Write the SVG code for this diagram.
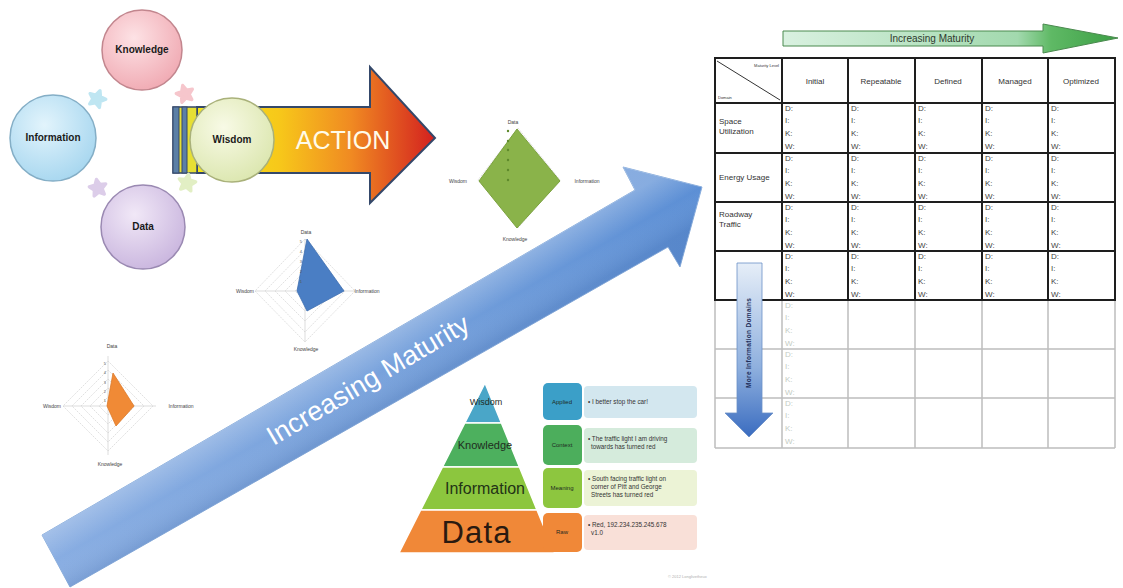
<svg xmlns="http://www.w3.org/2000/svg" width="1123" height="588" viewBox="0 0 1123 588">
<defs>
<style>
text{font-family:"Liberation Sans","Open Sans",Arial,sans-serif}
.cl{font-size:10px;font-weight:bold;text-anchor:middle;fill:#1a1a1a}
.rl{font-size:5px;fill:#444;text-anchor:middle}
.tk{font-size:4px;fill:#555;text-anchor:end}
.grid{fill:none;stroke:#d4d4d4;stroke-width:0.7;stroke-dasharray:2 1}
.ax{stroke:#cfcfcf;stroke-width:0.7}
.th{font-size:8px;text-anchor:middle;fill:#333}
.rh{font-size:8px;fill:#333}
.c text{font-size:8px;fill:#444}
.cg text{font-size:8px;fill:#c4ccc4}
.tl{stroke:#1e1e1e;stroke-width:2;fill:none}
.gl{stroke:#bdbdbd;stroke-width:1.5;fill:none}
.bl{font-size:6px;text-anchor:middle;fill:#1e2a22}
.ds{font-size:6.3px;fill:#333}
</style>
<radialGradient id="gK" cx="0.4" cy="0.35" r="0.7"><stop offset="0" stop-color="#fde2e5"/><stop offset="1" stop-color="#f0a9b2"/></radialGradient>
<radialGradient id="gI" cx="0.4" cy="0.35" r="0.7"><stop offset="0" stop-color="#e2f4fc"/><stop offset="1" stop-color="#a6d6ef"/></radialGradient>
<radialGradient id="gD" cx="0.4" cy="0.35" r="0.7"><stop offset="0" stop-color="#f1e8f7"/><stop offset="1" stop-color="#c9b5de"/></radialGradient>
<radialGradient id="gW" cx="0.4" cy="0.35" r="0.7"><stop offset="0" stop-color="#f8fae6"/><stop offset="1" stop-color="#dbe6ae"/></radialGradient>
<linearGradient id="gAct" x1="195" y1="0" x2="435" y2="0" gradientUnits="userSpaceOnUse"><stop offset="0" stop-color="#f3e81c"/><stop offset="0.35" stop-color="#f7c81a"/><stop offset="0.65" stop-color="#f08a22"/><stop offset="1" stop-color="#d3201f"/></linearGradient>
<linearGradient id="gBig" x1="56" y1="561" x2="700" y2="190" gradientUnits="userSpaceOnUse"><stop offset="0" stop-color="#88ade2"/><stop offset="0.5" stop-color="#78a2dc"/><stop offset="1" stop-color="#5c8fd5"/></linearGradient>
<linearGradient id="gBigS" x1="335" y1="364" x2="365" y2="416" gradientUnits="userSpaceOnUse"><stop offset="0" stop-color="#ffffff" stop-opacity="0.25"/><stop offset="0.5" stop-color="#ffffff" stop-opacity="0"/><stop offset="1" stop-color="#20407a" stop-opacity="0.12"/></linearGradient>
<linearGradient id="gGr" x1="783" y1="0" x2="1118" y2="0" gradientUnits="userSpaceOnUse"><stop offset="0" stop-color="#d9f1e0"/><stop offset="0.7" stop-color="#a2d9ae"/><stop offset="0.8" stop-color="#5fb965"/><stop offset="1" stop-color="#3c9f45"/></linearGradient>
<linearGradient id="gDn" x1="0" y1="263" x2="0" y2="437" gradientUnits="userSpaceOnUse"><stop offset="0" stop-color="#e6eef8"/><stop offset="0.6" stop-color="#8fb0de"/><stop offset="1" stop-color="#3a6cc0"/></linearGradient>
<path id="star" d="M0,-8 L2.3,-3 L7.6,-2.5 L3.6,1.2 L4.7,6.5 L0,3.8 L-4.7,6.5 L-3.6,1.2 L-7.6,-2.5 L-2.3,-3 Z"/>
</defs>
<rect width="1123" height="588" fill="#fff"/>

<g id="big-arrow">
<polygon points="42,535 635,190 623,167 702,187 680,267 668,247 70,587" fill="url(#gBig)" stroke="#8aaedd" stroke-width="1"/>
<polygon points="42,535 635,190 623,167 702,187 680,267 668,247 70,587" fill="url(#gBigS)"/>
<text x="368" y="389" transform="rotate(-30.5 368 380)" text-anchor="middle" font-size="27" fill="#ffffff" textLength="230">Increasing Maturity</text>
</g>

<g id="action-arrow">
<polygon points="197,107 370,107 370,67 435,138 370,203 370,173 197,173" fill="url(#gAct)" stroke="#34486a" stroke-width="2"/>
<rect x="173" y="107" width="24" height="66" fill="#e6df34" stroke="#34486a" stroke-width="1.5"/>
<rect x="173" y="107" width="6" height="66" fill="#5b7fa6" stroke="#34486a" stroke-width="1"/>
<rect x="182" y="107" width="5" height="66" fill="#5b7fa6" stroke="#34486a" stroke-width="1"/>
<text x="343" y="149" text-anchor="middle" font-size="25" fill="#fffbe8">ACTION</text>
</g>

<g id="connectors">
<use href="#star" transform="translate(97,99) rotate(20) scale(1.1)" fill="#bfe6f2" stroke="#bfe6f2" stroke-width="3" stroke-linejoin="round"/>
<use href="#star" transform="translate(185,94) rotate(-15) scale(1.1)" fill="#f6c6cc" stroke="#f6c6cc" stroke-width="3" stroke-linejoin="round"/>
<use href="#star" transform="translate(187,183) rotate(10) scale(1.1)" fill="#e2efc4" stroke="#e2efc4" stroke-width="3" stroke-linejoin="round"/>
<use href="#star" transform="translate(98,188) rotate(-10) scale(1.1)" fill="#dccde9" stroke="#dccde9" stroke-width="3" stroke-linejoin="round"/>
</g>

<g id="knowledge-circle">
<circle cx="142" cy="50" r="40" fill="url(#gK)" stroke="#c2868e" stroke-width="1.5"/>
<text class="cl" x="142" y="53">Knowledge</text>
</g>
<g id="information-circle">
<circle cx="53" cy="138" r="43" fill="url(#gI)" stroke="#84aec6" stroke-width="1.5"/>
<text class="cl" x="53" y="141">Information</text>
</g>
<g id="data-circle">
<circle cx="143" cy="227" r="42" fill="url(#gD)" stroke="#9a89b2" stroke-width="1.5"/>
<text class="cl" x="143" y="230">Data</text>
</g>
<g id="wisdom-circle">
<circle cx="232" cy="140" r="42" fill="url(#gW)" stroke="#a9b17a" stroke-width="1.5"/>
<text class="cl" x="232" y="143">Wisdom</text>
</g>

<g id="radar-green">
<polygon class="grid" points="518,128 560,180 518,228 478,180"/>
<polygon points="517,129 560,181 517,228 479,181" fill="#8ab34a" stroke="#7ba23e" stroke-width="1"/>
<g fill="#5f8a2c"><circle cx="508" cy="131" r="1.2"/><circle cx="508" cy="141" r="1.2"/><circle cx="508" cy="150" r="1.2"/><circle cx="508" cy="160" r="1.2"/><circle cx="508" cy="170" r="1.2"/><circle cx="508" cy="180" r="1.2"/></g>
<text class="rl" x="513" y="124">Data</text>
<text class="rl" x="458" y="183">Wisdom</text>
<text class="rl" x="587" y="183">Information</text>
<text class="rl" x="515" y="241">Knowledge</text>
</g>

<g id="radar-blue">
<polygon class="grid" points="305,281 315,291 305,301 295,291"/>
<polygon class="grid" points="305,271 325,291 305,311 285,291"/>
<polygon class="grid" points="305,261 335,291 305,321 275,291"/>
<polygon class="grid" points="305,250 345,291 305,332 265,291"/>
<polygon class="grid" points="305,239 355,291 305,342 255,291"/>
<line class="ax" x1="305" y1="239" x2="305" y2="342"/><line class="ax" x1="255" y1="291" x2="355" y2="291"/>
<polygon points="307,239 344,291 307,311 297,291" fill="#4a7ec4" stroke="#3f6fb0" stroke-width="0.8"/>
<text class="tk" x="302" y="243">5</text><text class="tk" x="302" y="253">4</text><text class="tk" x="302" y="263">3</text><text class="tk" x="302" y="273">2</text><text class="tk" x="302" y="283">1</text>
<text class="rl" x="306" y="234">Data</text>
<text class="rl" x="245" y="293">Wisdom</text>
<text class="rl" x="367" y="293">Information</text>
<text class="rl" x="306" y="351">Knowledge</text>
</g>

<g id="radar-orange">
<polygon class="grid" points="108,397 117,406 108,415 99,406"/>
<polygon class="grid" points="108,388 126,406 108,424 90,406"/>
<polygon class="grid" points="108,379 135,406 108,433 81,406"/>
<polygon class="grid" points="108,370 144,406 108,442 72,406"/>
<polygon class="grid" points="108,361 153,406 108,451 63,406"/>
<line class="ax" x1="108" y1="356" x2="108" y2="455"/><line class="ax" x1="63" y1="406" x2="156" y2="406"/>
<polygon points="113,373 134,406 116,426 107,406" fill="#f08a36" stroke="#dd7a2a" stroke-width="0.8"/>
<text class="tk" x="106" y="365">5</text><text class="tk" x="106" y="374">4</text><text class="tk" x="106" y="384">3</text><text class="tk" x="106" y="393">2</text><text class="tk" x="106" y="402">1</text>
<text class="rl" x="112" y="348">Data</text>
<text class="rl" x="52" y="408">Wisdom</text>
<text class="rl" x="181" y="408">Information</text>
<text class="rl" x="110" y="466">Knowledge</text>
</g>

<g id="pyramid">
<polygon points="485,383 501.4,423 464.8,423" fill="#4aa6c8" stroke="#fff" stroke-width="1.5"/>
<polygon points="464.8,423 501.4,423 519.4,467 442.5,467" fill="#4db05e" stroke="#fff" stroke-width="1.5"/>
<polygon points="442.5,467 519.4,467 537,510 420.7,510" fill="#8cc63e" stroke="#fff" stroke-width="1.5"/>
<polygon points="420.7,510 537,510 554.7,553 399,553" fill="#f08838" stroke="#fff" stroke-width="1.5"/>
<text x="486" y="405" text-anchor="middle" font-size="9" fill="#1f2d26">Wisdom</text>
<text x="485" y="449" text-anchor="middle" font-size="11" fill="#1f2d1f">Knowledge</text>
<text x="485" y="494" text-anchor="middle" font-size="16" fill="#233316">Information</text>
<text x="476" y="543" text-anchor="middle" font-size="31" fill="#2a1a10" textLength="69">Data</text>
</g>

<g id="level-applied">
<rect x="584" y="386" width="113" height="32" rx="4" fill="#d3e7ef"/>
<rect x="543" y="383" width="39" height="37" rx="5" fill="#3b9fc8"/>
<text class="bl" x="562" y="404">Applied</text>
<text class="ds" x="588" y="404">• I better stop the car!</text>
</g>
<g id="level-context">
<rect x="584" y="428" width="113" height="35" rx="4" fill="#d5ebdc"/>
<rect x="543" y="425" width="39" height="40" rx="5" fill="#4cae5c"/>
<text class="bl" x="562" y="447">Context</text>
<text class="ds" x="588" y="441">• The traffic light I am driving</text>
<text class="ds" x="591" y="449">towards has turned red</text>
</g>
<g id="level-meaning">
<rect x="584" y="470" width="113" height="36" rx="4" fill="#ecf3d6"/>
<rect x="543" y="468" width="39" height="40" rx="5" fill="#8dc63f"/>
<text class="bl" x="562" y="490">Meaning</text>
<text class="ds" x="588" y="481">• South facing traffic light on</text>
<text class="ds" x="591" y="489">corner of Pitt and George</text>
<text class="ds" x="591" y="497">Streets has turned red</text>
</g>
<g id="level-raw">
<rect x="584" y="515" width="113" height="35" rx="4" fill="#f9e0d8"/>
<rect x="543" y="513" width="39" height="39" rx="5" fill="#f08838"/>
<text class="bl" x="562" y="534">Raw</text>
<text class="ds" x="588" y="527">• Red, 192.234.235.245.678</text>
<text class="ds" x="591" y="535">v1.0</text>
</g>
<text x="668" y="578" font-size="4" fill="#b0b0b0">© 2012 Longlivetheux</text>

<g id="maturity-arrow">
<polygon points="783,31 1043,31 1043,24 1118,38 1043,53 1043,46 783,46" fill="url(#gGr)" stroke="#4b8a4f" stroke-width="1"/>
<text x="932" y="42" text-anchor="middle" font-size="10" fill="#2e3a2e">Increasing Maturity</text>
</g>

<g id="table">
<line class="gl" x1="715" y1="300" x2="715" y2="448"/>
<line class="gl" x1="782" y1="300" x2="782" y2="448"/>
<line class="gl" x1="848" y1="300" x2="848" y2="448"/>
<line class="gl" x1="915" y1="300" x2="915" y2="448"/>
<line class="gl" x1="982" y1="300" x2="982" y2="448"/>
<line class="gl" x1="1048" y1="300" x2="1048" y2="448"/>
<line class="gl" x1="1115" y1="300" x2="1115" y2="448"/>
<line class="gl" x1="715" y1="349" x2="1115" y2="349"/>
<line class="gl" x1="715" y1="398" x2="1115" y2="398"/>
<line class="gl" x1="715" y1="448" x2="1115" y2="448"/>
<rect class="tl" x="715" y="58" width="400" height="242"/>
<line class="tl" x1="782" y1="58" x2="782" y2="300"/>
<line class="tl" x1="848" y1="58" x2="848" y2="300"/>
<line class="tl" x1="915" y1="58" x2="915" y2="300"/>
<line class="tl" x1="982" y1="58" x2="982" y2="300"/>
<line class="tl" x1="1048" y1="58" x2="1048" y2="300"/>
<line class="tl" x1="715" y1="103" x2="1115" y2="103"/>
<line class="tl" x1="715" y1="153" x2="1115" y2="153"/>
<line class="tl" x1="715" y1="202" x2="1115" y2="202"/>
<line class="tl" x1="715" y1="251" x2="1115" y2="251"/>
<line x1="717" y1="61" x2="780" y2="100" stroke="#333" stroke-width="1"/>
<text x="779" y="67" font-size="4" text-anchor="end" fill="#333">Maturity Level</text>
<text x="718" y="99" font-size="4" fill="#333">Domain</text>
<text class="th" x="815" y="84">Initial</text>
<text class="th" x="881" y="84">Repeatable</text>
<text class="th" x="948" y="84">Defined</text>
<text class="th" x="1015" y="84">Managed</text>
<text class="th" x="1081" y="84">Optimized</text>
<text class="rh" x="719" y="124">Space</text>
<text class="rh" x="719" y="134">Utilization</text>
<text class="rh" x="719" y="180">Energy Usage</text>
<text class="rh" x="719" y="217">Roadway</text>
<text class="rh" x="719" y="227">Traffic</text>
<g class="c">
<text x="785" y="111">D:</text><text x="785" y="123">I:</text><text x="785" y="136">K:</text><text x="785" y="149">W:</text>
<text x="851" y="111">D:</text><text x="851" y="123">I:</text><text x="851" y="136">K:</text><text x="851" y="149">W:</text>
<text x="918" y="111">D:</text><text x="918" y="123">I:</text><text x="918" y="136">K:</text><text x="918" y="149">W:</text>
<text x="985" y="111">D:</text><text x="985" y="123">I:</text><text x="985" y="136">K:</text><text x="985" y="149">W:</text>
<text x="1051" y="111">D:</text><text x="1051" y="123">I:</text><text x="1051" y="136">K:</text><text x="1051" y="149">W:</text>
<text x="785" y="161">D:</text><text x="785" y="173">I:</text><text x="785" y="186">K:</text><text x="785" y="199">W:</text>
<text x="851" y="161">D:</text><text x="851" y="173">I:</text><text x="851" y="186">K:</text><text x="851" y="199">W:</text>
<text x="918" y="161">D:</text><text x="918" y="173">I:</text><text x="918" y="186">K:</text><text x="918" y="199">W:</text>
<text x="985" y="161">D:</text><text x="985" y="173">I:</text><text x="985" y="186">K:</text><text x="985" y="199">W:</text>
<text x="1051" y="161">D:</text><text x="1051" y="173">I:</text><text x="1051" y="186">K:</text><text x="1051" y="199">W:</text>
<text x="785" y="210">D:</text><text x="785" y="222">I:</text><text x="785" y="235">K:</text><text x="785" y="248">W:</text>
<text x="851" y="210">D:</text><text x="851" y="222">I:</text><text x="851" y="235">K:</text><text x="851" y="248">W:</text>
<text x="918" y="210">D:</text><text x="918" y="222">I:</text><text x="918" y="235">K:</text><text x="918" y="248">W:</text>
<text x="985" y="210">D:</text><text x="985" y="222">I:</text><text x="985" y="235">K:</text><text x="985" y="248">W:</text>
<text x="1051" y="210">D:</text><text x="1051" y="222">I:</text><text x="1051" y="235">K:</text><text x="1051" y="248">W:</text>
<text x="785" y="259">D:</text><text x="785" y="271">I:</text><text x="785" y="284">K:</text><text x="785" y="297">W:</text>
<text x="851" y="259">D:</text><text x="851" y="271">I:</text><text x="851" y="284">K:</text><text x="851" y="297">W:</text>
<text x="918" y="259">D:</text><text x="918" y="271">I:</text><text x="918" y="284">K:</text><text x="918" y="297">W:</text>
<text x="985" y="259">D:</text><text x="985" y="271">I:</text><text x="985" y="284">K:</text><text x="985" y="297">W:</text>
<text x="1051" y="259">D:</text><text x="1051" y="271">I:</text><text x="1051" y="284">K:</text><text x="1051" y="297">W:</text>
</g>
<g class="cg">
<text x="785" y="308">D:</text><text x="785" y="320">I:</text><text x="785" y="333">K:</text><text x="785" y="346">W:</text>
<text x="785" y="357">D:</text><text x="785" y="369">I:</text><text x="785" y="382">K:</text><text x="785" y="395">W:</text>
<text x="785" y="406">D:</text><text x="785" y="418">I:</text><text x="785" y="431">K:</text><text x="785" y="444">W:</text>
</g>
</g>

<g id="domains-arrow">
<polygon points="737,263 762,263 762,413 773,413 749,437 725,413 737,413" fill="url(#gDn)" stroke="#6b8fc6" stroke-width="0.8"/>
<text x="749" y="345" transform="rotate(-90 749 343)" text-anchor="middle" font-size="6.5" font-weight="bold" fill="#1f2f5a" textLength="90">More Information Domains</text>
</g>
</svg>
